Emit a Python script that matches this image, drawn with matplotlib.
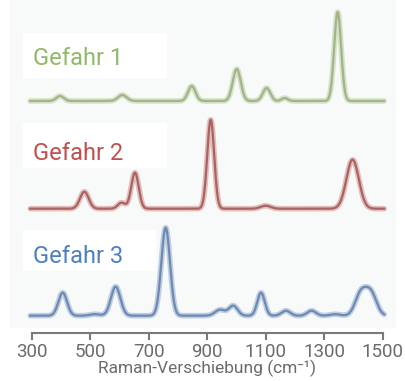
import numpy as np
import matplotlib
matplotlib.use('Agg')
import matplotlib.pyplot as plt
from matplotlib.patches import Rectangle

plt.rcParams['font.family'] = ['Roboto', 'DejaVu Sans']

# peaks: centre (cm-1), height, FWHM (cm-1)
g1_centres = [397, 610, 847, 1001, 1103, 1165, 1346]
g1_heights = [5, 6, 15, 32, 13, 3, 89]
g1_widths = [30, 35, 30, 32, 30, 25, 28]

g2_centres = [480, 607, 653, 912, 1100, 1397]
g2_heights = [17, 6, 36, 89, 3, 49]
g2_widths = [35, 30, 30, 28, 40, 50]

g3_centres = [406, 516, 587, 758, 944, 989, 1084, 1169, 1257, 1337, 1425, 1460]
g3_heights = [23, 1.5, 29, 88, 6, 10, 23, 5, 5, 1.5, 22, 22]
g3_widths = [35, 40, 38, 35, 40, 35, 30, 35, 35, 40, 45, 45]

labels = ['Gefahr 1', 'Gefahr 2', 'Gefahr 3']
colors = ['#92b86a', '#c0504d', '#4f7fc0']
cores = ['#a3b48a', '#a76461', '#7089b0']
offsets = [231.5, 123.8, 16.8]

ticks = [300, 500, 700, 900, 1100, 1300, 1500]

def spectrum(x, centres, heights, widths):
    y = np.zeros_like(x)
    for c, h, w in zip(centres, heights, widths):
        s = w / 2.355
        y += h * np.exp(-(x - c) ** 2 / (2 * s * s))
    return y

fig = plt.figure(figsize=(4.05, 3.81), dpi=100)
fig.patches.append(Rectangle((10 / 405, 1 - 327 / 381), 385 / 405, 327 / 381,
                             transform=fig.transFigure, color='#f8f9f9', zorder=-2))

ax = fig.add_axes([27.3 / 405, 1 - 332.5 / 381, 359.8 / 405, 332.5 / 381])
ax.set_zorder(2)
ax.patch.set_alpha(0)
ax.set_xlim(285, 1515)
ax.set_ylim(0, 332.5)

x = np.linspace(295, 1505, 1500)
series = [(g1_centres, g1_heights, g1_widths),
          (g2_centres, g2_heights, g2_widths),
          (g3_centres, g3_heights, g3_widths)]

# label boxes (figure pixels): left, top, right, bottom
boxes = [(23, 33, 166, 77), (23, 123, 166, 167), (23, 230, 155, 270)]
baselines = [65, 160, 263]

for i, (c, h, w) in enumerate(series):
    y = offsets[i] + spectrum(x, c, h, w)
    ax.plot(x, y, color=colors[i], lw=4, alpha=0.35, solid_capstyle='round')
    ax.plot(x, y, color=cores[i], lw=1.6)
    l, t, r, b = boxes[i]
    fig.patches.append(Rectangle((l / 405, 1 - b / 381), (r - l) / 405, (b - t) / 381,
                                 transform=fig.transFigure, color='white', zorder=-1))
    fig.text(33 / 405, 1 - baselines[i] / 381, labels[i], color=colors[i],
             fontsize=17, va='baseline', ha='left', zorder=3)

for s in ['top', 'right', 'left']:
    ax.spines[s].set_visible(False)
ax.spines['bottom'].set_bounds(300, 1500)
ax.spines['bottom'].set_color('#7a7a7a')
ax.spines['bottom'].set_linewidth(1.5)
ax.set_yticks([])
ax.set_xticks(ticks)
ax.tick_params(axis='x', length=5, width=1.5, color='#7a7a7a',
               labelcolor='#6b6b6b', labelsize=13.5, pad=2.5)
ax.set_xlabel('Raman-Verschiebung (cm⁻¹)', color='#6b6b6b', fontsize=12.5, labelpad=-1)

fig.savefig('out.png', dpi=100)
